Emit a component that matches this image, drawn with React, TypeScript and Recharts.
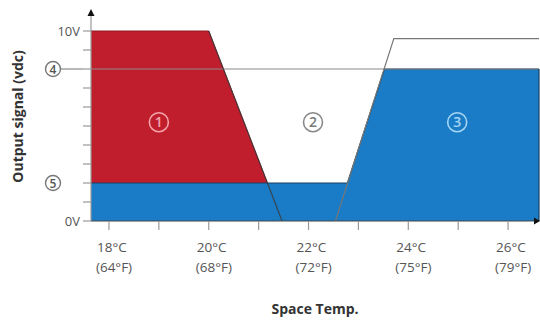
import React from 'react';
import {
  ComposedChart,
  Area,
  Line,
  XAxis,
  YAxis,
  ReferenceLine,
  ReferenceDot,
} from 'recharts';

// Temperature breakpoints (°C)
const temps = [17.64, 20, 21.47, 22.54, 22.78, 23.52, 23.71, 26.62];
// Heating signal (red zone ①)
const heating = [10, 10, 0, null, null, null, null, null];
// Cooling signal (blue zone ③ and base band)
const cooling = [2, null, null, null, 2, 8, null, 8];
// Heating ramp edge
const heatingEdge = [null, 10, 0, null, null, null, null, null];
// Cooling ramp edge (continues to max line)
const coolingEdge = [null, null, null, 0, null, null, 9.6, 9.6];

const xTicks = [18, 19, 20, 21, 22, 23, 24, 25, 26];
const xTickC: Record<number, string> = { 18: '18°C', 20: '20°C', 22: '22°C', 24: '24°C', 26: '26°C' };
const xTickF: Record<number, string> = { 18: '(64°F)', 20: '(68°F)', 22: '(72°F)', 24: '(75°F)', 26: '(79°F)' };

const yTicks = [0, 1, 2, 3, 4, 5, 6, 7, 8, 9, 10];
const yTickText: Record<number, string> = { 0: '0V', 10: '10V' };
const yTickCircled: Record<number, string> = { 8: '4', 2: '5' };

const setpointLevel = 8;
const zoneX = [19.0, 22.09, 24.98];
const zoneY = 5.2;
const zoneLabels = ['1', '2', '3'];

const RED = '#C01E2D';
const BLUE = '#1A7CC6';
const GRAY = '#8a8a8a';
const FONT = '"Open Sans", sans-serif';

const data = temps.map((t, i) => ({
  t,
  heating: heating[i],
  cooling: cooling[i],
  heatingEdge: heatingEdge[i],
  coolingEdge: coolingEdge[i],
}));

const YTick = (props: any) => {
  const { x, y, payload } = props;
  const v = payload.value;
  if (yTickText[v] !== undefined) {
    return (
      <text x={x - 1} y={y} dy={4.5} textAnchor="end" fontSize={13} fill="#555" fontFamily={FONT}>
        {yTickText[v]}
      </text>
    );
  }
  if (yTickCircled[v] !== undefined) {
    const cx = x - 28;
    return (
      <g>
        {v === setpointLevel && <line x1={cx + 8} x2={x + 2} y1={y} y2={y} stroke={GRAY} strokeWidth={1.2} />}
        <circle cx={cx} cy={y} r={7.5} fill="#fff" stroke="#777" strokeWidth={1.4} />
        <text x={cx} y={y} dy={4.5} textAnchor="middle" fontSize={12} fontWeight={600} fill="#555" fontFamily={FONT}>
          {yTickCircled[v]}
        </text>
      </g>
    );
  }
  return <g />;
};

const XTick = (props: any) => {
  const { x, y, payload } = props;
  const v = payload.value;
  if (!xTickC[v]) return <g />;
  return (
    <g>
      <text x={x - 12} y={y + 20} textAnchor="start" fontSize={13.5} fill="#555" fontFamily={FONT}>
        {xTickC[v]}
      </text>
      <text x={x - 13} y={y + 40} textAnchor="start" fontSize={13.5} fill="#555" fontFamily={FONT}>
        {xTickF[v]}
      </text>
    </g>
  );
};

const zoneStyles = [
  { stroke: '#F4A3AB', fill: '#F4A3AB' },
  { stroke: '#888', fill: '#777' },
  { stroke: '#A6D6F5', fill: '#A6D6F5' },
];

const ZoneMarker = (idx: number) => (props: any) => {
  const { cx, cy } = props;
  const s = zoneStyles[idx];
  return (
    <g>
      <circle cx={cx} cy={cy} r={9.5} fill="none" stroke={s.stroke} strokeWidth={1.6} />
      <text x={cx} y={cy} dy={5} textAnchor="middle" fontSize={14} fontWeight={600} fill={s.fill} fontFamily={FONT}>
        {zoneLabels[idx]}
      </text>
    </g>
  );
};

const UpArrow = (props: any) => {
  const { cx, cy } = props;
  return <polygon points={`${cx},${cy - 3} ${cx - 3.5},${cy + 4} ${cx + 3.5},${cy + 4}`} fill="#111" />;
};
const RightArrow = (props: any) => {
  const { cx, cy } = props;
  return <polygon points={`${cx + 1},${cy} ${cx - 5},${cy - 3.5} ${cx - 5},${cy + 3.5}`} fill="#111" />;
};

export default function App() {
  return (
    <div style={{ position: 'absolute', left: 0, top: 0, width: 540, height: 320, background: '#fff' }}>
      <ComposedChart width={540} height={320} data={data} margin={{ top: 12, right: 1, bottom: 0, left: 0 }}>
        <XAxis
          dataKey="t"
          type="number"
          domain={[17.64, 26.62]}
          allowDataOverflow
          ticks={xTicks}
          interval={0}
          height={99}
          tickSize={9}
          tickLine={{ stroke: '#999', strokeWidth: 1.2 }}
          axisLine={{ stroke: '#444', strokeWidth: 1.2 }}
          tick={<XTick />}
          label={{
            value: 'Space Temp.',
            position: 'insideBottom',
            offset: 6,
            style: { fontFamily: FONT, fontWeight: 700, fontSize: 14, fill: '#333' },
          }}
        />
        <YAxis
          type="number"
          domain={[0, 11]}
          allowDataOverflow
          ticks={yTicks}
          interval={0}
          width={91}
          tickSize={8}
          tickLine={{ stroke: '#999', strokeWidth: 1.2 }}
          axisLine={{ stroke: '#999', strokeWidth: 1.2 }}
          tick={<YTick />}
          label={{
            value: 'Output signal (vdc)',
            angle: -90,
            position: 'insideLeft',
            offset: 18,
            style: { textAnchor: 'middle', fontFamily: FONT, fontWeight: 700, fontSize: 14, fill: '#333' },
          }}
        />
        <Area
          dataKey="heating"
          type="linear"
          connectNulls
          fill={RED}
          fillOpacity={1}
          stroke="#8e1822"
          strokeWidth={1}
          isAnimationActive={false}
          dot={false}
          activeDot={false}
        />
        <Area
          dataKey="cooling"
          type="linear"
          connectNulls
          fill={BLUE}
          fillOpacity={1}
          stroke="#1d3f5e"
          strokeWidth={1.2}
          isAnimationActive={false}
          dot={false}
          activeDot={false}
        />
        <ReferenceLine
          y={setpointLevel}
          stroke={GRAY}
          strokeWidth={1.2}
          segment={[{ x: 17.64, y: setpointLevel }, { x: 23.52, y: setpointLevel }]}
        />
        <ReferenceLine
          stroke="#1d3f5e"
          strokeWidth={1.2}
          segment={[{ x: 26.62, y: 0 }, { x: 26.62, y: 8 }]}
        />
        <Line
          dataKey="heatingEdge"
          type="linear"
          connectNulls
          stroke="#3a3a3a"
          strokeOpacity={0.8}
          strokeWidth={1.2}
          dot={false}
          activeDot={false}
          isAnimationActive={false}
        />
        <Line
          dataKey="coolingEdge"
          type="linear"
          connectNulls
          stroke="#777"
          strokeWidth={1.2}
          dot={false}
          activeDot={false}
          isAnimationActive={false}
        />
        {zoneX.map((zx, i) => (
          <ReferenceDot key={i} x={zx} y={zoneY} r={10} ifOverflow="visible" shape={ZoneMarker(i)} />
        ))}
        <ReferenceDot x={17.64} y={11} r={4} ifOverflow="visible" shape={UpArrow} />
        <ReferenceDot x={26.62} y={0} r={4} ifOverflow="visible" shape={RightArrow} />
      </ComposedChart>
    </div>
  );
}
